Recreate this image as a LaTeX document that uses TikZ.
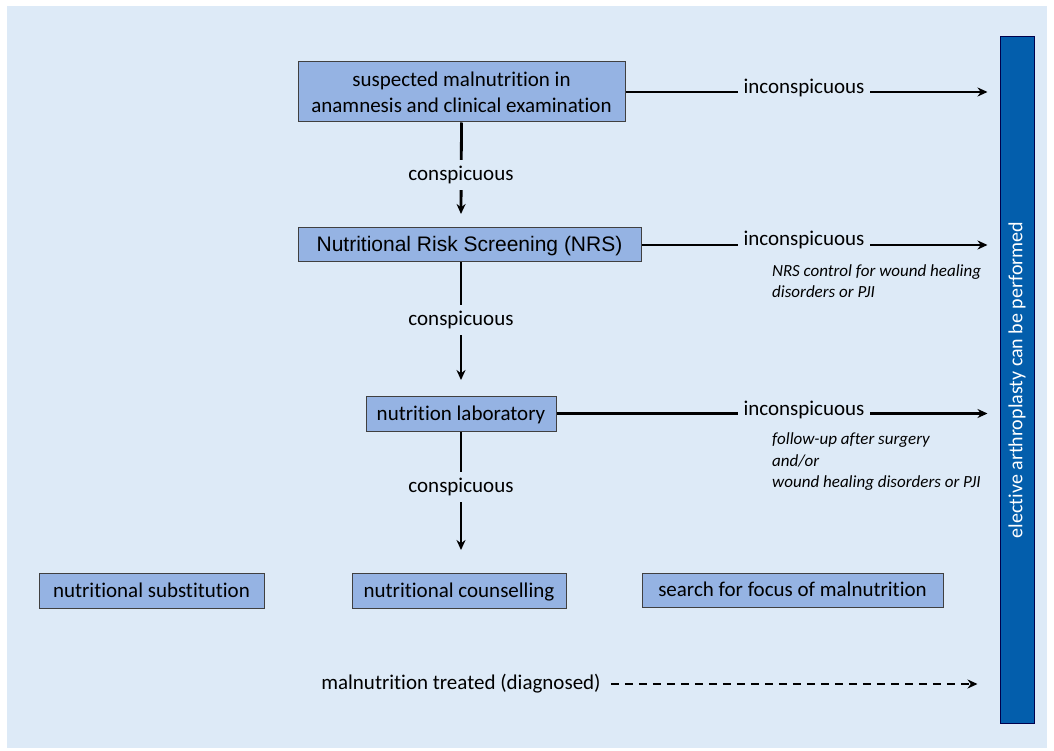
\documentclass[tikz,border=0pt]{standalone}
\usepackage{fontspec}
\setmainfont[Ligatures=NoCommon]{Carlito}
\newfontfamily\arialfont{Liberation Sans}
\usetikzlibrary{arrows.meta}

\definecolor{bgblue}{HTML}{DDEAF7}
\definecolor{boxblue}{HTML}{95B3E3}
\definecolor{barblue}{HTML}{035EAC}
\definecolor{edgegray}{HTML}{404040}

\begin{document}
\begin{tikzpicture}[x=1pt,y=-1pt,>={Stealth[length=10pt,width=9pt]},
  box/.style={draw=edgegray,fill=boxblue,line width=1pt,inner sep=0pt,
    font=\fontsize{21}{26}\selectfont,align=center},
  onebox/.style={box,text height=16pt,text depth=3pt},
  conn/.style={line width=2.8pt,->},
  lbl/.style={fill=bgblue,inner sep=6pt,font=\fontsize{21}{26}\selectfont},
  note/.style={anchor=west,align=left,inner sep=0pt,
    font=\fontsize{17}{21.5}\selectfont\itshape}]
\useasboundingbox (0,0) rectangle (1054,751);
\fill[bgblue] (7,6) rectangle (1047,748);

% bar on the right
\node[draw=black!70!blue,fill=barblue,line width=1pt,minimum width=34pt,minimum height=686pt,inner sep=0pt] (bar) at (1017,380) {};
\node[rotate=90,text=white,font=\fontsize{20}{24}\selectfont] at (bar) {elective arthroplasty can be performed};

% main chain
\node[box,minimum width=327pt,minimum height=60pt] (susp) at (461.5,92) {suspected malnutrition in\\anamnesis and clinical examination};
\node[onebox,minimum width=343pt,minimum height=34pt,font=\fontsize{21}{26}\arialfont] (nrs) at (469.5,245) {Nutritional Risk Screening (NRS)};
\node[onebox,minimum width=190pt,minimum height=35pt] (lab) at (461,413.5) {nutrition laboratory};

% bottom row
\node[onebox,minimum width=225pt,minimum height=35pt] (subst) at (151.5,590.5) {nutritional substitution};
\node[onebox,minimum width=214pt,minimum height=35pt] (couns) at (459,590.5) {nutritional counselling};
\node[onebox,minimum width=301pt,minimum height=34pt] (focus) at (792.5,590) {search for focus of malnutrition};

\coordinate (d1) at (461,214);
\coordinate (d2) at (461,380);
\coordinate (d3) at (461,550);

% conspicuous
\draw[conn] (susp.south) -- (d1);
\node[lbl] (c1) at (461,175) {conspicuous};
\draw[conn] (nrs.south -| d2) -- (d2);
\node[lbl] (c2) at (461,320) {conspicuous};
\draw[conn] (lab.south) -- (d3);
\node[lbl] (c3) at (461,487) {conspicuous};

% inconspicuous
\draw[conn,shorten >=12pt] (susp.east) -- (susp.east -| bar.west);
\node[lbl] (i1) at (804,88) {inconspicuous};
\draw[conn,shorten >=12pt] (nrs.east) -- (nrs.east -| bar.west);
\node[lbl] (i2) at (804,240) {inconspicuous};
\draw[conn,shorten >=12pt] (lab.east) -- (lab.east -| bar.west);
\node[lbl] (i3) at (804,410) {inconspicuous};

\node[note] (n1) at (772,281) {NRS control for wound healing\\disorders or PJI};
\node[note] (n2) at (772,462) {follow-up after surgery\\and/or\\wound healing disorders or PJI};

% treated
\node[font=\fontsize{21}{26}\selectfont,inner sep=0pt] (treat) at (461,684) {malnutrition treated (diagnosed)};
\draw[line width=2.8pt,->,dash pattern=on 8pt off 6pt,shorten <=10pt,shorten >=22pt] (treat.east) -- (treat.east -| bar.west);
\end{tikzpicture}
\end{document}
